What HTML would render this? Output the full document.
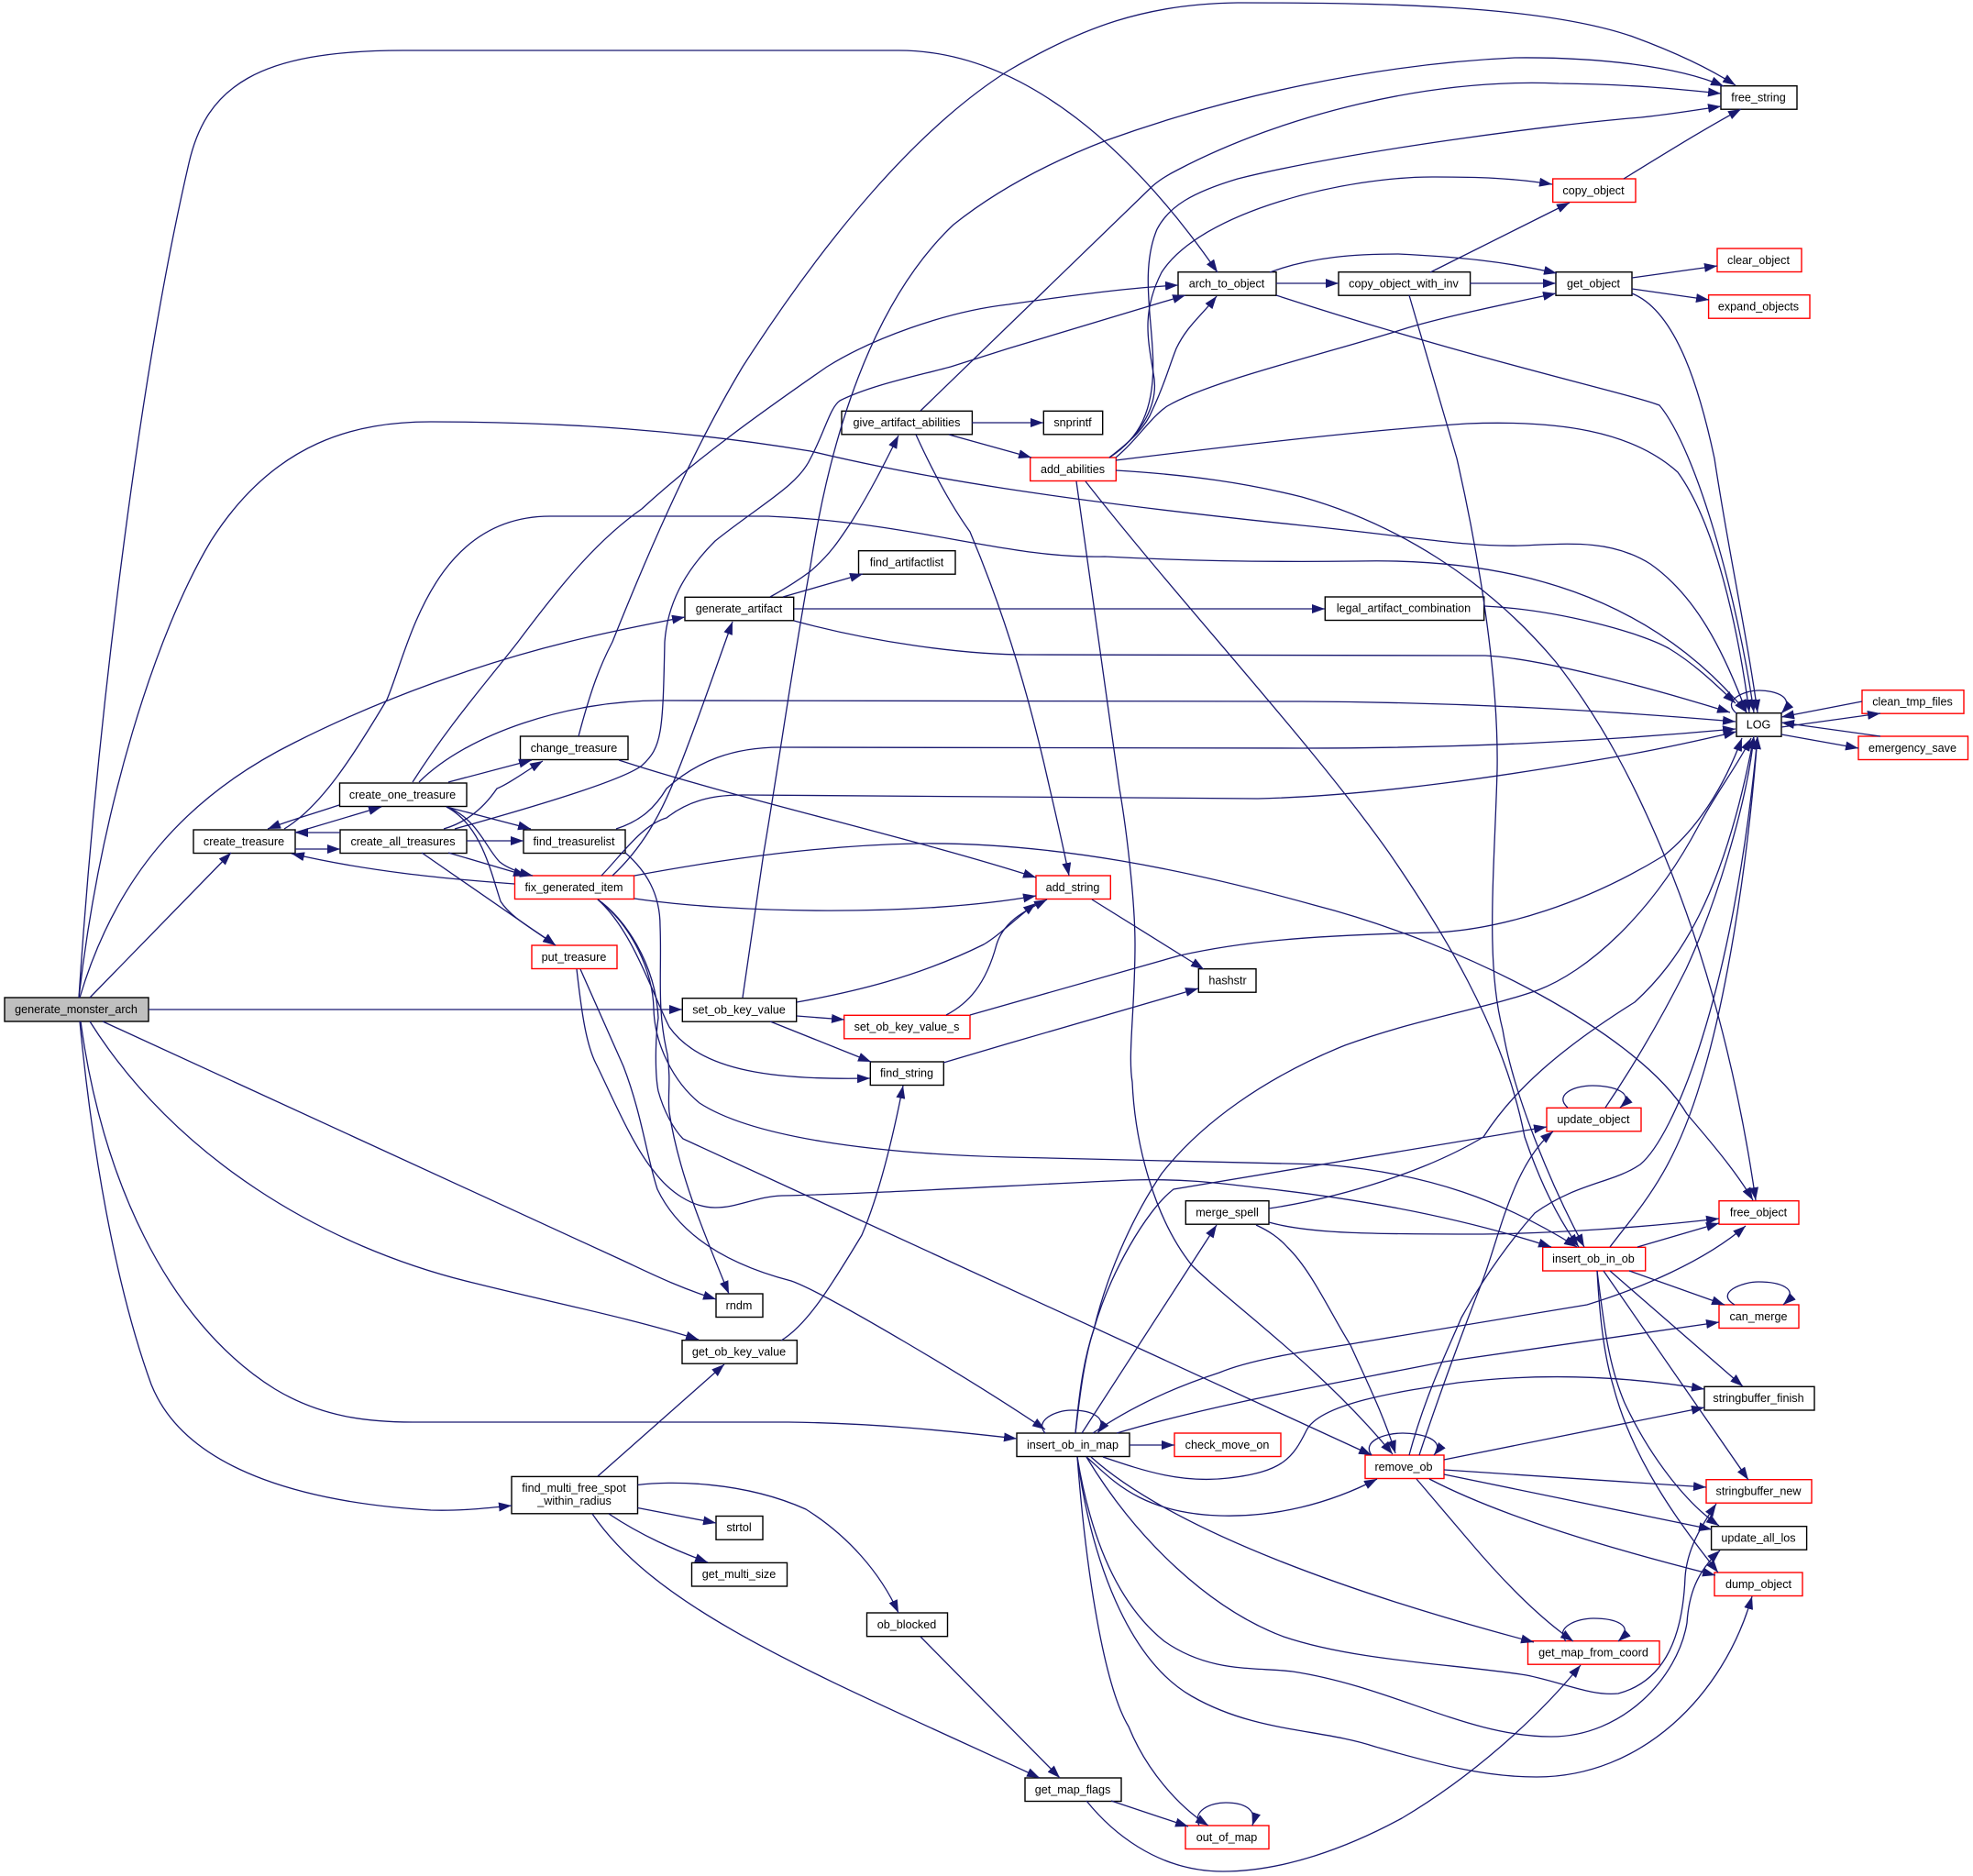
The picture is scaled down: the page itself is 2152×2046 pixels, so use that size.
<!DOCTYPE html>
<html>
<head>
<meta charset="utf-8">
<title>generate_monster_arch</title>
<style>
html,body{margin:0;padding:0;background:#fff}
svg{display:block}
text{font-family:"Liberation Sans",sans-serif;font-size:12.6px;fill:#000;text-anchor:middle}
.n rect{fill:#fff;stroke:#000;stroke-width:1.4}
.r rect{fill:#fff;stroke:#ff0000;stroke-width:1.4}
.g rect{fill:#bfbfbf;stroke:#000;stroke-width:1.4}
</style>
</head>
<body>
<svg xmlns="http://www.w3.org/2000/svg" width="2152" height="2046" viewBox="0 0 2152 2046">
<defs>
<marker id="a" markerUnits="userSpaceOnUse" viewBox="0 0 14 10" refX="14" refY="5" markerWidth="14" markerHeight="10" orient="auto">
<polygon points="0,0 14,5 0,10" fill="#191970"/>
</marker>
</defs>

<g class="g"><rect x="5" y="1088" width="157" height="26"/><text x="83" y="1105">generate_monster_arch</text></g>
<g class="n">
<rect x="211" y="905" width="111" height="25.5"/><text x="266" y="922">create_treasure</text>
<rect x="370.5" y="854" width="138.5" height="25.5"/><text x="439" y="871">create_one_treasure</text>
<rect x="371" y="905" width="138" height="25.5"/><text x="439.5" y="922">create_all_treasures</text>
<rect x="567.5" y="803" width="117.5" height="25.5"/><text x="626" y="820">change_treasure</text>
<rect x="571" y="905" width="111" height="25.5"/><text x="626" y="922">find_treasurelist</text>
<rect x="744.3" y="1088.7" width="124.4" height="25.5"/><text x="806" y="1105.5">set_ob_key_value</text>
<rect x="949.3" y="1158" width="80" height="25.5"/><text x="989" y="1174.5">find_string</text>
<rect x="1307.3" y="1056.7" width="62.7" height="25.5"/><text x="1339" y="1073.5">hashstr</text>
<rect x="1293.3" y="1309.7" width="90.7" height="25.5"/><text x="1338.5" y="1326.5">merge_spell</text>
<rect x="744" y="1461.7" width="125.3" height="25.5"/><text x="806" y="1478.5">get_ob_key_value</text>
<rect x="781" y="1411" width="51" height="25.5"/><text x="806" y="1428">rndm</text>
<rect x="558" y="1610.4" width="137.5" height="40.4"/><text x="626" y="1627">find_multi_free_spot</text><text x="626.5" y="1641">_within_radius</text>
<rect x="781" y="1653.5" width="51" height="25.7"/><text x="806" y="1670">strtol</text>
<rect x="754.5" y="1704.4" width="104" height="25.6"/><text x="806" y="1721">get_multi_size</text>
<rect x="945.5" y="1759" width="88" height="25.7"/><text x="989" y="1776">ob_blocked</text>
<rect x="1118" y="1939" width="105" height="25.5"/><text x="1170" y="1956">get_map_flags</text>
<rect x="1109" y="1563" width="123" height="25.5"/><text x="1170" y="1580">insert_ob_in_map</text>
<rect x="1859" y="1512.3" width="120" height="25.7"/><text x="1918" y="1529">stringbuffer_finish</text>
<rect x="1866.6" y="1664.7" width="104" height="25.5"/><text x="1918" y="1681.5">update_all_los</text>
<rect x="1894" y="777.7" width="49" height="25.5"/><text x="1918" y="794.5">LOG</text>
<rect x="1445.3" y="651" width="173.4" height="25.5"/><text x="1531" y="667.5">legal_artifact_combination</text>
<rect x="936.5" y="600.7" width="105.5" height="25.5"/><text x="989" y="617.5">find_artifactlist</text>
<rect x="747" y="651.3" width="118.7" height="25.5"/><text x="806" y="668">generate_artifact</text>
<rect x="918" y="448.3" width="142.4" height="25.5"/><text x="989" y="465">give_artifact_abilities</text>
<rect x="1138.3" y="448.3" width="64.4" height="25.5"/><text x="1170" y="465">snprintf</text>
<rect x="1285" y="296.7" width="107" height="25.5"/><text x="1338" y="313.5">arch_to_object</text>
<rect x="1460" y="296.7" width="143.6" height="25.5"/><text x="1531" y="313.5">copy_object_with_inv</text>
<rect x="1697" y="296.7" width="83" height="25.5"/><text x="1738" y="313.5">get_object</text>
<rect x="1877" y="93.7" width="83" height="25.5"/><text x="1918" y="110.5">free_string</text>
</g>
<g class="r">
<rect x="561.5" y="955" width="130" height="25.5"/><text x="626" y="972">fix_generated_item</text>
<rect x="580" y="1031" width="93" height="25.5"/><text x="626" y="1048">put_treasure</text>
<rect x="920.7" y="1107.3" width="137.3" height="25.5"/><text x="989" y="1124">set_ob_key_value_s</text>
<rect x="1130" y="955" width="81.3" height="25.5"/><text x="1170" y="972">add_string</text>
<rect x="1293" y="1991" width="91" height="25.5"/><text x="1338" y="2008">out_of_map</text>
<rect x="1666.5" y="1789.7" width="143.5" height="25.5"/><text x="1738" y="1806.5">get_map_from_coord</text>
<rect x="1281" y="1563" width="116" height="25.5"/><text x="1338.5" y="1580">check_move_on</text>
<rect x="1489" y="1587" width="86" height="25.5"/><text x="1531" y="1604">remove_ob</text>
<rect x="1861" y="1613.7" width="115" height="25.5"/><text x="1918" y="1630.5">stringbuffer_new</text>
<rect x="1870" y="1715" width="96" height="25.5"/><text x="1918" y="1732">dump_object</text>
<rect x="1875" y="1423" width="87" height="25.5"/><text x="1918" y="1440">can_merge</text>
<rect x="1682.7" y="1360.3" width="112" height="25.7"/><text x="1738" y="1377">insert_ob_in_ob</text>
<rect x="1875" y="1309.7" width="87" height="25.5"/><text x="1918" y="1326.5">free_object</text>
<rect x="1687" y="1208.3" width="103" height="25.5"/><text x="1738" y="1225">update_object</text>
<rect x="2031" y="752.7" width="111" height="25.5"/><text x="2086" y="769.5">clean_tmp_files</text>
<rect x="2027" y="803" width="119.5" height="25.5"/><text x="2086" y="820">emergency_save</text>
<rect x="1123.7" y="499" width="93.6" height="25.5"/><text x="1170" y="516">add_abilities</text>
<rect x="1693.7" y="195" width="90.3" height="25.5"/><text x="1738" y="212">copy_object</text>
<rect x="1873" y="271" width="92" height="25.5"/><text x="1918" y="288">clear_object</text>
<rect x="1863.6" y="321.7" width="110.4" height="25.5"/><text x="1918" y="338.5">expand_objects</text>
</g>

<g fill="none" stroke="#191970" stroke-width="1.3" marker-end="url(#a)">
<!-- generate_monster_arch -->
<path d="M86,1088 C105,800 150,420 206,178 C225,95 280,55 440,55 L980,55 C1120,55 1240,170 1328,297"/>
<path d="M86,1088 C110,880 170,690 230,590 C300,480 390,460 470,460 C620,460 750,470 884,492 C1000,520 1150,545 1420,573 C1540,585 1600,597 1660,595 C1720,592 1760,590 1800,615 C1850,650 1880,710 1905,777"/>
<path d="M87,1088 C125,960 200,870 321,810 C420,760 530,722 620,700 C660,690 700,682 747,673"/>
<path d="M98,1088 L252,930"/>
<path d="M162,1101 L744,1101"/>
<path d="M87,1114 C100,1250 125,1400 165,1510 C205,1610 350,1640 470,1647 C500,1648 530,1645 558,1642"/>
<path d="M88,1114 C110,1280 180,1440 300,1515 C350,1545 400,1551 450,1551 L860,1551 C950,1552 1030,1560 1109,1569"/>
<path d="M98,1114 C190,1260 350,1360 520,1400 C600,1420 690,1438 762,1461"/>
<path d="M112,1114 L680,1375 C710,1389 740,1404 781,1417"/>
<!-- create_treasure cluster -->
<path d="M322,908 L416,880"/>
<path d="M370,878 C340,888 315,895 292,904"/>
<path d="M371,908 L322,908"/>
<path d="M322,926 L371,926"/>
<path d="M561,964 C480,958 400,950 318,931"/>
<path d="M310,904 C350,880 385,825 422,763 C445,710 470,563 600,563 L838,563 C1000,570 1100,610 1205,607 C1300,612 1400,613 1480,612 C1650,608 1800,650 1905,777"/>
<!-- create_one_treasure -->
<path d="M450,853 C490,790 530,745 565,700 C610,640 650,590 700,555 C760,500 830,450 902,400 C950,370 1030,340 1100,332 C1170,322 1230,314 1285,311"/>
<path d="M457,853 C510,800 620,764 720,764 L1420,765 C1600,766 1750,775 1893,787"/>
<path d="M489,853 L580,829"/>
<path d="M487,880 L579,904"/>
<path d="M487,880 C520,892 530,925 545,940 C555,948 568,952 581,955"/>
<path d="M487,880 C525,900 535,950 546,983 C558,1002 585,1015 606,1031"/>
<!-- create_all_treasures -->
<path d="M484,904 C505,898 525,885 542,860 C555,855 575,840 592,830"/>
<path d="M496,904 C600,875 680,850 700,835 C722,815 723,800 725,700 C728,660 745,625 780,590 C830,550 870,530 884,500 C900,470 905,445 916,437 C950,420 1000,410 1037,400 L1100,380 L1293,322"/>
<path d="M509,917 L571,917"/>
<path d="M489,930 L574,955"/>
<path d="M460,930 L606,1031"/>
<!-- change_treasure -->
<path d="M631,803 C645,750 655,725 668,700 C700,620 750,500 810,400 C900,260 1000,140 1100,77 C1180,30 1250,4 1350,3 C1500,3 1680,5 1781,40 C1830,58 1865,75 1893,93"/>
<path d="M675,829 C800,870 1000,915 1130,957"/>
<!-- find_treasurelist -->
<path d="M672,904 C700,895 715,880 727,860 C760,830 800,815 851,815 L1420,816 C1600,816 1750,808 1893,795"/>
<path d="M682,930 C705,950 720,975 720,1010 C722,1060 716,1100 728,1150 C732,1180 728,1195 730,1213 C740,1280 770,1350 795,1411"/>
<!-- fix_generated_item -->
<path d="M656,955 C680,930 700,900 727,892 C755,870 785,867 810,867 L1372,871 C1500,868 1650,845 1776,823 C1820,815 1860,806 1894,798"/>
<path d="M668,955 C700,925 720,890 737,847 C760,790 780,730 799,678"/>
<path d="M692,980 C800,996 1000,1000 1130,977"/>
<path d="M692,955 C800,935 900,922 1000,920 C1150,918 1300,950 1433,987 C1600,1030 1790,1130 1840,1215 C1870,1250 1895,1280 1912,1309"/>
<path d="M652,981 C680,1000 715,1050 718,1110 C715,1130 714,1170 718,1190 C724,1212 735,1232 745,1242 L1496,1587"/>
<path d="M652,981 C690,1015 710,1080 730,1120 C765,1170 850,1178 949,1176"/>
<path d="M652,981 C690,1010 712,1060 713,1100 C714,1140 735,1180 763,1203 C820,1240 950,1258 1100,1262 C1250,1266 1400,1268 1444,1270 C1560,1280 1640,1310 1720,1360"/>
<!-- put_treasure -->
<path d="M633,1057 L680,1163 C700,1215 705,1260 717,1297 C740,1345 790,1378 863,1397 C900,1410 1060,1505 1140,1559"/>
<path d="M629,1057 C635,1110 640,1140 650,1160 C665,1190 690,1250 713,1277 C730,1300 755,1317 780,1317 C805,1317 825,1305 853,1304 C950,1302 1100,1293 1233,1287 C1300,1285 1340,1292 1387,1297 C1500,1310 1600,1330 1692,1360"/>
<!-- generate_artifact -->
<path d="M840,651 C860,640 872,632 884,623 C905,605 915,590 930,567 C950,535 965,505 980,475"/>
<path d="M854,651 L941,626"/>
<path d="M866,664 L1445,664"/>
<path d="M866,677 C950,700 1050,714 1120,714 L1620,715 C1680,718 1800,750 1887,777"/>
<!-- give_artifact_abilities -->
<path d="M1060,461 L1138,461"/>
<path d="M1035,474 L1125,499"/>
<path d="M999,474 C1020,520 1040,555 1058,580 C1100,680 1125,770 1145,860 C1152,890 1160,925 1166,955"/>
<path d="M1004,448 L1257,203 C1265,196 1275,190 1285,185 C1400,125 1560,85 1700,91 C1780,92 1830,97 1877,102"/>
<!-- set_ob_key_value -->
<path d="M810,1088 L833,930 C850,830 865,720 884,617 C905,480 950,330 1040,245 C1090,205 1150,175 1207,153 C1340,105 1500,70 1652,63 C1740,62 1830,72 1880,94"/>
<path d="M869,1093 C930,1082 1000,1066 1073,1030 C1090,1020 1110,1000 1130,985"/>
<path d="M869,1108 L921,1112"/>
<path d="M840,1114 L950,1158"/>
<!-- set_ob_key_value_s -->
<path d="M1032,1107 C1055,1095 1075,1075 1087,1030 C1095,1005 1115,995 1142,981"/>
<path d="M1058,1107 L1287,1042 C1350,1028 1420,1020 1567,1017 C1640,1013 1730,985 1815,933 C1850,905 1880,860 1900,805"/>
<!-- add_string etc -->
<path d="M1191,981 L1313,1057"/>
<path d="M1029,1159 L1100,1138 L1307,1078"/>
<path d="M852,1462 C880,1445 905,1405 940,1347 C960,1300 975,1235 985,1184"/>
<!-- find_multi_free_spot -->
<path d="M652,1610 L790,1488"/>
<path d="M695.5,1644.5 L781,1661"/>
<path d="M664,1651 C700,1675 735,1690 772,1704"/>
<path d="M695.5,1619.5 C730,1615 810,1615 879,1646 C925,1675 960,1715 980,1759"/>
<path d="M646,1651 C720,1760 900,1830 1134,1939"/>
<path d="M1004,1785 L1156,1939"/>
<!-- get_map_flags -->
<path d="M1212,1964 L1296,1992"/>
<path d="M1185,1964 C1210,1995 1260,2041 1334,2041 C1400,2041 1470,2015 1529,1983 C1610,1935 1680,1870 1724,1816"/>
<path d="M1308,1991 C1300,1975 1320,1966 1337,1966 C1355,1966 1372,1972 1366,1991"/>
<!-- insert_ob_in_map -->
<path d="M1175,1589 C1185,1720 1205,1840 1231,1883 C1250,1930 1285,1970 1318,1991"/>
<path d="M1175,1589 C1190,1700 1230,1810 1300,1850 C1370,1890 1440,1885 1500,1905 C1570,1925 1620,1938 1676,1938 C1790,1938 1880,1850 1911,1741"/>
<path d="M1175,1589 C1190,1680 1220,1750 1270,1790 C1320,1825 1370,1818 1410,1823 C1520,1840 1600,1894 1692,1894 C1770,1894 1830,1830 1840,1770 C1842,1740 1850,1715 1876,1691"/>
<path d="M1185,1589 C1240,1680 1320,1755 1400,1785 C1480,1812 1590,1815 1665,1827 C1705,1835 1735,1850 1765,1847 C1810,1835 1835,1795 1838,1720 C1840,1690 1855,1665 1872,1640"/>
<path d="M1190,1589 C1280,1670 1480,1740 1673,1791"/>
<path d="M1185,1589 C1210,1610 1240,1650 1330,1653 C1390,1655 1450,1640 1502,1613"/>
<path d="M1203,1589 C1250,1605 1290,1618 1340,1612 C1400,1605 1410,1590 1425,1560 C1440,1530 1530,1517 1590,1508 C1690,1496 1780,1502 1859,1515"/>
<path d="M1218,1563 C1330,1530 1450,1510 1576,1485 L1875,1442"/>
<path d="M1192,1563 C1240,1530 1290,1510 1330,1497 C1370,1480 1450,1470 1490,1463 L1731,1423 C1790,1405 1860,1375 1904,1337"/>
<path d="M1232,1576 L1281,1576"/>
<path d="M1140,1563 C1128,1550 1150,1538 1169,1538 C1190,1538 1210,1546 1197,1563"/>
<path d="M1180,1563 L1327,1336"/>
<path d="M1173,1563 C1178,1510 1183,1480 1193,1450 C1210,1390 1250,1320 1280,1297 L1687,1229"/>
<path d="M1173,1563 C1178,1520 1183,1480 1193,1450 C1210,1380 1240,1320 1267,1280 C1310,1225 1380,1175 1467,1140 C1550,1110 1620,1100 1677,1080 C1730,1060 1800,1000 1853,900 C1875,860 1895,835 1910,805"/>
<!-- merge_spell -->
<path d="M1384,1318 C1470,1305 1560,1275 1618,1240 C1650,1190 1700,1145 1783,1093 C1830,1050 1880,980 1913,803"/>
<path d="M1384,1333 C1430,1346 1502,1346 1617,1346 C1700,1345 1800,1338 1875,1329"/>
<path d="M1370,1336 C1385,1343 1395,1350 1404,1360 C1430,1385 1450,1430 1473,1467 C1490,1505 1510,1545 1522,1585"/>
<!-- remove_ob -->
<path d="M1496,1587 C1485,1572 1510,1563 1530,1563 C1550,1563 1578,1570 1564,1587"/>
<path d="M1548,1587 C1570,1520 1600,1440 1617,1397 C1635,1350 1650,1270 1694,1234"/>
<path d="M1537,1587 C1555,1520 1580,1470 1594,1437 C1620,1390 1650,1350 1674,1323 C1720,1290 1760,1290 1789,1270 C1825,1240 1890,1090 1917,803"/>
<path d="M1575,1592 L1859,1535"/>
<path d="M1575,1603 L1861,1622"/>
<path d="M1575,1608 L1867,1668"/>
<path d="M1559,1613 C1640,1655 1760,1690 1871,1718"/>
<path d="M1545,1613 L1602,1680 C1640,1725 1680,1765 1716,1790"/>
<!-- insert_ob_in_ob -->
<path d="M1756,1360 C1790,1315 1825,1280 1855,1180 C1880,1100 1905,960 1917,803"/>
<path d="M1786,1360 L1875,1334"/>
<path d="M1777,1386 L1881,1423"/>
<path d="M1756,1386 L1901,1512"/>
<path d="M1749,1386 L1907,1614"/>
<path d="M1742,1386 C1750,1450 1755,1490 1772,1530 C1800,1590 1840,1640 1875,1664"/>
<path d="M1742,1386 C1745,1440 1750,1480 1760,1513 C1780,1590 1830,1660 1874,1715"/>
<!-- update_object, can_merge, self loops -->
<path d="M1751,1208 C1790,1150 1820,1095 1839,1057 C1870,990 1905,880 1913,803"/>
<path d="M1710,1208 C1695,1195 1715,1184 1737,1184 C1760,1184 1785,1192 1767,1208"/>
<path d="M1892,1423 C1870,1410 1900,1398 1918,1398 C1940,1398 1965,1405 1945,1423"/>
<path d="M1708,1790 C1695,1775 1720,1765 1738,1765 C1760,1765 1785,1772 1765,1790"/>
<!-- add_abilities -->
<path d="M1210,499 C1240,480 1262,450 1257,380 C1255,340 1245,290 1262,250 C1275,225 1300,210 1350,195 C1470,165 1700,135 1790,128 C1820,125 1850,120 1877,116"/>
<path d="M1210,499 C1245,475 1265,440 1258,407 C1252,370 1245,340 1267,297 C1310,230 1470,192 1566,193 C1610,193 1650,194 1693,201"/>
<path d="M1210,499 C1235,480 1250,465 1257,447 C1270,420 1275,400 1283,380 C1295,355 1310,345 1327,323"/>
<path d="M1217,499 C1240,480 1255,455 1273,443 C1320,415 1450,385 1537,357 C1590,342 1650,330 1697,320"/>
<path d="M1217,502 C1330,488 1480,470 1600,462 C1700,458 1780,470 1830,515 C1870,570 1895,680 1908,777"/>
<path d="M1217,513 C1300,518 1360,527 1420,542 C1520,570 1620,630 1697,722 C1750,790 1785,860 1815,932 C1860,1040 1895,1170 1915,1309"/>
<path d="M1174,525 L1221,860 C1228,900 1238,980 1238,1030 C1238,1100 1230,1150 1235,1180 C1238,1250 1260,1330 1300,1380 C1340,1420 1440,1490 1519,1586"/>
<path d="M1184,525 C1290,660 1430,810 1515,930 C1570,1010 1640,1120 1663,1240 C1680,1290 1700,1330 1722,1360"/>
<!-- arch, copy, get_object -->
<path d="M1385,297 C1430,280 1480,277 1525,277 C1590,280 1640,285 1698,298"/>
<path d="M1392,309 L1460,309"/>
<path d="M1392,322 C1600,390 1780,430 1810,442 C1850,490 1895,650 1913,777"/>
<path d="M1603,309 L1697,309"/>
<path d="M1560,297 L1712,221"/>
<path d="M1537,322 L1589,500 C1605,570 1635,720 1633,840 C1630,950 1620,1050 1639,1123 C1650,1190 1690,1290 1728,1360"/>
<path d="M1771,195 C1820,165 1860,140 1899,119"/>
<path d="M1780,303 L1873,290"/>
<path d="M1780,315 L1864,327"/>
<path d="M1780,320 C1830,340 1855,430 1870,500 C1885,600 1905,690 1917,777"/>
<path d="M1619,661 C1700,665 1790,690 1820,707 C1850,725 1875,750 1893,767"/>
<!-- LOG -->
<path d="M1894,778 C1878,765 1900,753 1919,753 C1935,753 1960,760 1943,778"/>
<path d="M2031,765 L1943,782"/>
<path d="M1943,793 L2051,778"/>
<path d="M2051,803 L1943,788"/>
<path d="M1943,801 L2027,816"/>
</g>
</svg>
</body>
</html>
